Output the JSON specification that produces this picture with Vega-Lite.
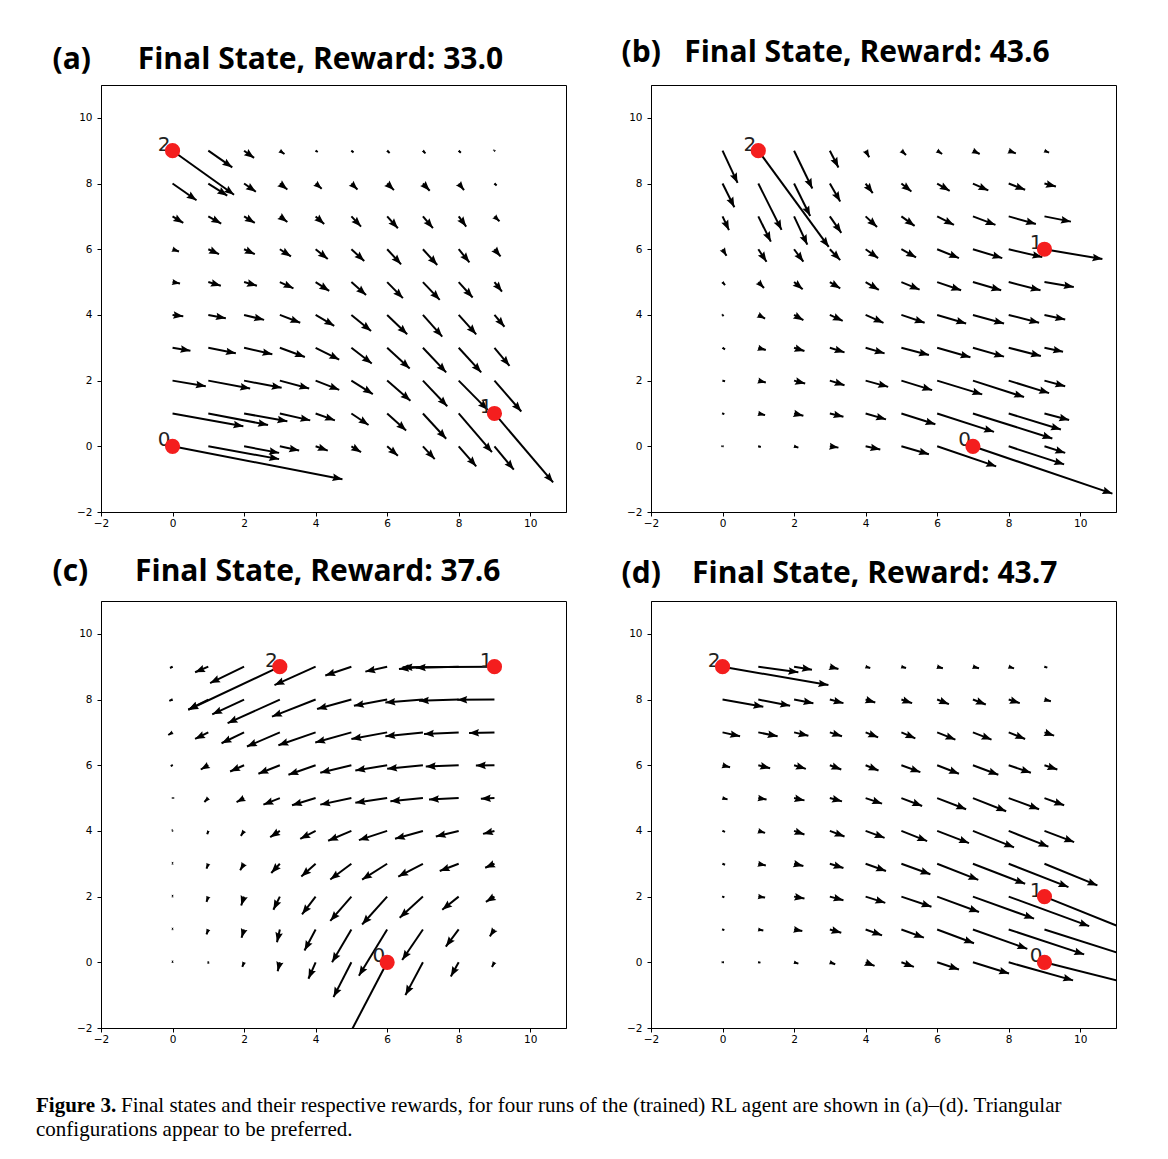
{
  "$schema": "https://vega.github.io/schema/vega-lite/v6.json",
  "background": "white",
  "padding": {"left": 36, "right": 54, "top": 37, "bottom": 20},
  "datasets": {
    "a": [
      {"x":0,"y":9,"x2":1.72,"y2":7.66},{"x":1,"y":9,"x2":1.67,"y2":8.49},{"x":2,"y":9,"x2":2.28,"y2":8.78},{"x":3,"y":9,"x2":3.13,"y2":8.9},{"x":4,"y":9,"x2":4.06,"y2":8.96},{"x":5,"y":9,"x2":5.06,"y2":8.95},{"x":6,"y":9,"x2":6.07,"y2":8.93},{"x":7,"y":9,"x2":7.07,"y2":8.92},{"x":8,"y":9,"x2":8.06,"y2":8.94},{"x":9,"y":9,"x2":9.02,"y2":8.98},
      {"x":0,"y":8,"x2":0.67,"y2":7.49},{"x":1,"y":8,"x2":1.53,"y2":7.63},{"x":2,"y":8,"x2":2.33,"y2":7.75},{"x":3,"y":8,"x2":3.21,"y2":7.82},{"x":4,"y":8,"x2":4.17,"y2":7.84},{"x":5,"y":8,"x2":5.17,"y2":7.82},{"x":6,"y":8,"x2":6.19,"y2":7.8},{"x":7,"y":8,"x2":7.19,"y2":7.78},{"x":8,"y":8,"x2":8.15,"y2":7.8},{"x":9,"y":8,"x2":9.06,"y2":7.94},
      {"x":0,"y":7,"x2":0.3,"y2":6.8},{"x":1,"y":7,"x2":1.36,"y2":6.78},{"x":2,"y":7,"x2":2.3,"y2":6.8},{"x":3,"y":7,"x2":3.21,"y2":6.83},{"x":4,"y":7,"x2":4.24,"y2":6.77},{"x":5,"y":7,"x2":5.27,"y2":6.69},{"x":6,"y":7,"x2":6.3,"y2":6.64},{"x":7,"y":7,"x2":7.28,"y2":6.64},{"x":8,"y":7,"x2":8.21,"y2":6.69},{"x":9,"y":7,"x2":9.14,"y2":6.85},
      {"x":0,"y":6,"x2":0.18,"y2":5.93},{"x":1,"y":6,"x2":1.3,"y2":5.85},{"x":2,"y":6,"x2":2.3,"y2":5.85},{"x":3,"y":6,"x2":3.31,"y2":5.78},{"x":4,"y":6,"x2":4.34,"y2":5.7},{"x":5,"y":6,"x2":5.36,"y2":5.64},{"x":6,"y":6,"x2":6.39,"y2":5.54},{"x":7,"y":6,"x2":7.4,"y2":5.52},{"x":8,"y":6,"x2":8.3,"y2":5.6},{"x":9,"y":6,"x2":9.17,"y2":5.78},
      {"x":0,"y":5,"x2":0.21,"y2":4.96},{"x":1,"y":5,"x2":1.35,"y2":4.89},{"x":2,"y":5,"x2":2.36,"y2":4.89},{"x":3,"y":5,"x2":3.38,"y2":4.81},{"x":4,"y":5,"x2":4.38,"y2":4.73},{"x":5,"y":5,"x2":5.41,"y2":4.61},{"x":6,"y":5,"x2":6.44,"y2":4.51},{"x":7,"y":5,"x2":7.47,"y2":4.46},{"x":8,"y":5,"x2":8.39,"y2":4.53},{"x":9,"y":5,"x2":9.21,"y2":4.71},
      {"x":0,"y":4,"x2":0.3,"y2":3.96},{"x":1,"y":4,"x2":1.49,"y2":3.9},{"x":2,"y":4,"x2":2.56,"y2":3.85},{"x":3,"y":4,"x2":3.57,"y2":3.76},{"x":4,"y":4,"x2":4.52,"y2":3.67},{"x":5,"y":4,"x2":5.55,"y2":3.51},{"x":6,"y":4,"x2":6.56,"y2":3.41},{"x":7,"y":4,"x2":7.54,"y2":3.34},{"x":8,"y":4,"x2":8.49,"y2":3.41},{"x":9,"y":4,"x2":9.28,"y2":3.64},
      {"x":0,"y":3,"x2":0.5,"y2":2.91},{"x":1,"y":3,"x2":1.77,"y2":2.83},{"x":2,"y":3,"x2":2.79,"y2":2.8},{"x":3,"y":3,"x2":3.7,"y2":2.72},{"x":4,"y":3,"x2":4.66,"y2":2.64},{"x":5,"y":3,"x2":5.57,"y2":2.52},{"x":6,"y":3,"x2":6.63,"y2":2.37},{"x":7,"y":3,"x2":7.65,"y2":2.25},{"x":8,"y":3,"x2":8.63,"y2":2.25},{"x":9,"y":3,"x2":9.42,"y2":2.45},
      {"x":0,"y":2,"x2":0.93,"y2":1.83},{"x":1,"y":2,"x2":2.17,"y2":1.76},{"x":2,"y":2,"x2":3.05,"y2":1.78},{"x":3,"y":2,"x2":3.82,"y2":1.76},{"x":4,"y":2,"x2":4.66,"y2":1.72},{"x":5,"y":2,"x2":5.6,"y2":1.59},{"x":6,"y":2,"x2":6.65,"y2":1.39},{"x":7,"y":2,"x2":7.68,"y2":1.22},{"x":8,"y":2,"x2":8.81,"y2":1.11},{"x":9,"y":2,"x2":9.75,"y2":1.06},
      {"x":0,"y":1,"x2":1.98,"y2":0.61},{"x":1,"y":1,"x2":2.67,"y2":0.65},{"x":2,"y":1,"x2":3.21,"y2":0.76},{"x":3,"y":1,"x2":3.85,"y2":0.79},{"x":4,"y":1,"x2":4.54,"y2":0.79},{"x":5,"y":1,"x2":5.48,"y2":0.65},{"x":6,"y":1,"x2":6.53,"y2":0.48},{"x":7,"y":1,"x2":7.65,"y2":0.23},{"x":8,"y":1,"x2":8.93,"y2":-0.18},{"x":9,"y":1,"x2":10.64,"y2":-1.1},
      {"x":0,"y":0,"x2":4.75,"y2":-1},{"x":1,"y":0,"x2":2.98,"y2":-0.39},{"x":2,"y":0,"x2":2.98,"y2":-0.2},{"x":3,"y":0,"x2":3.54,"y2":-0.13},{"x":4,"y":0,"x2":4.34,"y2":-0.13},{"x":5,"y":0,"x2":5.27,"y2":-0.18},{"x":6,"y":0,"x2":6.3,"y2":-0.29},{"x":7,"y":0,"x2":7.33,"y2":-0.39},{"x":8,"y":0,"x2":8.49,"y2":-0.61},{"x":9,"y":0,"x2":9.54,"y2":-0.71}
    ],
    "b": [
      {"x":0,"y":9,"x2":0.42,"y2":8.02},{"x":1,"y":9,"x2":2.97,"y2":6.07},{"x":2,"y":9,"x2":2.51,"y2":7.85},{"x":3,"y":9,"x2":3.24,"y2":8.49},{"x":4,"y":9,"x2":4.1,"y2":8.8},{"x":5,"y":9,"x2":5.13,"y2":8.87},{"x":6,"y":9,"x2":6.14,"y2":8.9},{"x":7,"y":9,"x2":7.19,"y2":8.9},{"x":8,"y":9,"x2":8.2,"y2":8.92},{"x":9,"y":9,"x2":9.13,"y2":8.94},
      {"x":0,"y":8,"x2":0.33,"y2":7.28},{"x":1,"y":8,"x2":1.65,"y2":6.59},{"x":2,"y":8,"x2":2.45,"y2":7.01},{"x":3,"y":8,"x2":3.29,"y2":7.45},{"x":4,"y":8,"x2":4.2,"y2":7.71},{"x":5,"y":8,"x2":5.28,"y2":7.76},{"x":6,"y":8,"x2":6.35,"y2":7.78},{"x":7,"y":8,"x2":7.43,"y2":7.79},{"x":8,"y":8,"x2":8.46,"y2":7.81},{"x":9,"y":8,"x2":9.32,"y2":7.91},
      {"x":0,"y":7,"x2":0.18,"y2":6.58},{"x":1,"y":7,"x2":1.35,"y2":6.23},{"x":2,"y":7,"x2":2.37,"y2":6.14},{"x":3,"y":7,"x2":3.32,"y2":6.5},{"x":4,"y":7,"x2":4.32,"y2":6.68},{"x":5,"y":7,"x2":5.37,"y2":6.71},{"x":6,"y":7,"x2":6.47,"y2":6.74},{"x":7,"y":7,"x2":7.63,"y2":6.74},{"x":8,"y":7,"x2":8.76,"y2":6.77},{"x":9,"y":7,"x2":9.74,"y2":6.84},
      {"x":0,"y":6,"x2":0.11,"y2":5.8},{"x":1,"y":6,"x2":1.23,"y2":5.62},{"x":2,"y":6,"x2":2.26,"y2":5.62},{"x":3,"y":6,"x2":3.29,"y2":5.67},{"x":4,"y":6,"x2":4.35,"y2":5.73},{"x":5,"y":6,"x2":5.41,"y2":5.75},{"x":6,"y":6,"x2":6.61,"y2":5.73},{"x":7,"y":6,"x2":7.82,"y2":5.73},{"x":8,"y":6,"x2":8.94,"y2":5.76},{"x":9,"y":6,"x2":10.62,"y2":5.7},
      {"x":0,"y":5,"x2":0.07,"y2":4.91},{"x":1,"y":5,"x2":1.16,"y2":4.82},{"x":2,"y":5,"x2":2.24,"y2":4.78},{"x":3,"y":5,"x2":3.29,"y2":4.81},{"x":4,"y":5,"x2":4.37,"y2":4.76},{"x":5,"y":5,"x2":5.51,"y2":4.77},{"x":6,"y":5,"x2":6.67,"y2":4.75},{"x":7,"y":5,"x2":7.79,"y2":4.75},{"x":8,"y":5,"x2":8.89,"y2":4.75},{"x":9,"y":5,"x2":9.82,"y2":4.85},
      {"x":0,"y":4,"x2":0.03,"y2":3.97},{"x":1,"y":4,"x2":1.19,"y2":3.89},{"x":2,"y":4,"x2":2.26,"y2":3.84},{"x":3,"y":4,"x2":3.36,"y2":3.82},{"x":4,"y":4,"x2":4.5,"y2":3.76},{"x":5,"y":4,"x2":5.65,"y2":3.76},{"x":6,"y":4,"x2":6.81,"y2":3.74},{"x":7,"y":4,"x2":7.87,"y2":3.74},{"x":8,"y":4,"x2":8.85,"y2":3.76},{"x":9,"y":4,"x2":9.58,"y2":3.86},
      {"x":0,"y":3,"x2":0.07,"y2":2.95},{"x":1,"y":3,"x2":1.21,"y2":2.93},{"x":2,"y":3,"x2":2.29,"y2":2.9},{"x":3,"y":3,"x2":3.41,"y2":2.86},{"x":4,"y":3,"x2":4.53,"y2":2.83},{"x":5,"y":3,"x2":5.77,"y2":2.78},{"x":6,"y":3,"x2":6.93,"y2":2.71},{"x":7,"y":3,"x2":7.87,"y2":2.73},{"x":8,"y":3,"x2":8.9,"y2":2.75},{"x":9,"y":3,"x2":9.52,"y2":2.88},
      {"x":0,"y":2,"x2":0.07,"y2":1.98},{"x":1,"y":2,"x2":1.21,"y2":1.94},{"x":2,"y":2,"x2":2.31,"y2":1.91},{"x":3,"y":2,"x2":3.41,"y2":1.86},{"x":4,"y":2,"x2":4.63,"y2":1.81},{"x":5,"y":2,"x2":5.86,"y2":1.71},{"x":6,"y":2,"x2":7.26,"y2":1.58},{"x":7,"y":2,"x2":8.43,"y2":1.5},{"x":8,"y":2,"x2":9.13,"y2":1.62},{"x":9,"y":2,"x2":9.58,"y2":1.83},
      {"x":0,"y":1,"x2":0.05,"y2":0.98},{"x":1,"y":1,"x2":1.19,"y2":0.95},{"x":2,"y":1,"x2":2.26,"y2":0.93},{"x":3,"y":1,"x2":3.38,"y2":0.9},{"x":4,"y":1,"x2":4.57,"y2":0.82},{"x":5,"y":1,"x2":5.95,"y2":0.67},{"x":6,"y":1,"x2":7.59,"y2":0.44},{"x":7,"y":1,"x2":9.22,"y2":0.24},{"x":8,"y":1,"x2":9.46,"y2":0.51},{"x":9,"y":1,"x2":9.69,"y2":0.8},
      {"x":0,"y":0,"x2":0.03,"y2":0},{"x":1,"y":0,"x2":1.07,"y2":-0.02},{"x":2,"y":0,"x2":2.12,"y2":-0.04},{"x":3,"y":0,"x2":3.24,"y2":-0.04},{"x":4,"y":0,"x2":4.41,"y2":-0.1},{"x":5,"y":0,"x2":5.77,"y2":-0.24},{"x":6,"y":0,"x2":7.65,"y2":-0.61},{"x":7,"y":0,"x2":10.9,"y2":-1.44},{"x":8,"y":0,"x2":9.55,"y2":-0.55},{"x":9,"y":0,"x2":9.58,"y2":-0.2}
    ],
    "c": [
      {"x":0,"y":9,"x2":-0.07,"y2":8.96},{"x":1,"y":9,"x2":0.63,"y2":8.83},{"x":2,"y":9,"x2":1.05,"y2":8.5},{"x":3,"y":9,"x2":0.44,"y2":7.69},{"x":4,"y":9,"x2":2.85,"y2":8.44},{"x":5,"y":9,"x2":4.27,"y2":8.73},{"x":6,"y":9,"x2":5.39,"y2":8.85},{"x":7,"y":9,"x2":6.33,"y2":8.93},{"x":8,"y":9,"x2":6.8,"y2":8.97},{"x":9,"y":9,"x2":6.43,"y2":8.98},
      {"x":0,"y":8,"x2":-0.09,"y2":7.96},{"x":1,"y":8,"x2":0.44,"y2":7.69},{"x":2,"y":8,"x2":1.11,"y2":7.55},{"x":3,"y":8,"x2":1.54,"y2":7.28},{"x":4,"y":8,"x2":2.78,"y2":7.48},{"x":5,"y":8,"x2":4.04,"y2":7.71},{"x":6,"y":8,"x2":5.07,"y2":7.81},{"x":7,"y":8,"x2":5.95,"y2":7.91},{"x":8,"y":8,"x2":6.89,"y2":7.96},{"x":9,"y":8,"x2":7.96,"y2":7.99},
      {"x":0,"y":7,"x2":-0.12,"y2":6.92},{"x":1,"y":7,"x2":0.63,"y2":6.8},{"x":2,"y":7,"x2":1.37,"y2":6.67},{"x":3,"y":7,"x2":2.08,"y2":6.57},{"x":4,"y":7,"x2":2.96,"y2":6.61},{"x":5,"y":7,"x2":3.99,"y2":6.69},{"x":6,"y":7,"x2":5,"y2":6.8},{"x":7,"y":7,"x2":5.95,"y2":6.88},{"x":8,"y":7,"x2":7.03,"y2":6.95},{"x":9,"y":7,"x2":8.29,"y2":6.98},
      {"x":0,"y":6,"x2":-0.05,"y2":5.97},{"x":1,"y":6,"x2":0.79,"y2":5.87},{"x":2,"y":6,"x2":1.61,"y2":5.81},{"x":3,"y":6,"x2":2.4,"y2":5.74},{"x":4,"y":6,"x2":3.24,"y2":5.71},{"x":5,"y":6,"x2":4.13,"y2":5.77},{"x":6,"y":6,"x2":5.11,"y2":5.84},{"x":7,"y":6,"x2":6,"y2":5.89},{"x":8,"y":6,"x2":7.08,"y2":5.96},{"x":9,"y":6,"x2":8.48,"y2":5.99},
      {"x":0,"y":5,"x2":-0.02,"y2":5},{"x":1,"y":5,"x2":0.89,"y2":4.88},{"x":2,"y":5,"x2":1.79,"y2":4.88},{"x":3,"y":5,"x2":2.54,"y2":4.8},{"x":4,"y":5,"x2":3.34,"y2":4.78},{"x":5,"y":5,"x2":4.13,"y2":4.8},{"x":6,"y":5,"x2":5.11,"y2":4.86},{"x":7,"y":5,"x2":6.09,"y2":4.9},{"x":8,"y":5,"x2":7.17,"y2":4.96},{"x":9,"y":5,"x2":8.62,"y2":4.98},
      {"x":0,"y":4,"x2":0.01,"y2":3.98},{"x":1,"y":4,"x2":0.97,"y2":3.9},{"x":2,"y":4,"x2":1.91,"y2":3.85},{"x":3,"y":4,"x2":2.73,"y2":3.81},{"x":4,"y":4,"x2":3.57,"y2":3.76},{"x":5,"y":4,"x2":4.35,"y2":3.7},{"x":6,"y":4,"x2":5.21,"y2":3.72},{"x":7,"y":4,"x2":6.22,"y2":3.76},{"x":8,"y":4,"x2":7.36,"y2":3.83},{"x":9,"y":4,"x2":8.68,"y2":3.91},
      {"x":0,"y":3,"x2":0,"y2":2.98},{"x":1,"y":3,"x2":0.95,"y2":2.85},{"x":2,"y":3,"x2":1.89,"y2":2.8},{"x":3,"y":3,"x2":2.76,"y2":2.72},{"x":4,"y":3,"x2":3.6,"y2":2.61},{"x":5,"y":3,"x2":4.41,"y2":2.52},{"x":6,"y":3,"x2":5.3,"y2":2.52},{"x":7,"y":3,"x2":6.31,"y2":2.61},{"x":8,"y":3,"x2":7.47,"y2":2.78},{"x":9,"y":3,"x2":8.74,"y2":2.88},
      {"x":0,"y":2,"x2":0,"y2":1.98},{"x":1,"y":2,"x2":0.95,"y2":1.84},{"x":2,"y":2,"x2":1.92,"y2":1.73},{"x":3,"y":2,"x2":2.82,"y2":1.6},{"x":4,"y":2,"x2":3.62,"y2":1.46},{"x":5,"y":2,"x2":4.41,"y2":1.26},{"x":6,"y":2,"x2":5.3,"y2":1.15},{"x":7,"y":2,"x2":6.35,"y2":1.36},{"x":8,"y":2,"x2":7.54,"y2":1.6},{"x":9,"y":2,"x2":8.76,"y2":1.84},
      {"x":0,"y":1,"x2":0,"y2":0.98},{"x":1,"y":1,"x2":0.95,"y2":0.85},{"x":2,"y":1,"x2":1.93,"y2":0.75},{"x":3,"y":1,"x2":2.92,"y2":0.61},{"x":4,"y":1,"x2":3.69,"y2":0.36},{"x":5,"y":1,"x2":4.46,"y2":0},{"x":6,"y":1,"x2":5.21,"y2":-0.41},{"x":7,"y":1,"x2":6.42,"y2":0.07},{"x":8,"y":1,"x2":7.64,"y2":0.48},{"x":9,"y":1,"x2":8.87,"y2":0.79},
      {"x":0,"y":0,"x2":0,"y2":-0.02},{"x":1,"y":0,"x2":1,"y2":-0.04},{"x":2,"y":0,"x2":1.95,"y2":-0.14},{"x":3,"y":0,"x2":2.94,"y2":-0.27},{"x":4,"y":0,"x2":3.8,"y2":-0.5},{"x":5,"y":0,"x2":4.5,"y2":-1.06},{"x":6,"y":0,"x2":4.75,"y2":-2.6},{"x":7,"y":0,"x2":6.51,"y2":-1},{"x":8,"y":0,"x2":7.78,"y2":-0.43},{"x":9,"y":0,"x2":8.93,"y2":-0.14}
    ],
    "d": [
      {"x":0,"y":9,"x2":2.96,"y2":8.44},{"x":1,"y":9,"x2":2.12,"y2":8.83},{"x":2,"y":9,"x2":2.5,"y2":8.91},{"x":3,"y":9,"x2":3.24,"y2":8.93},{"x":4,"y":9,"x2":4.13,"y2":8.96},{"x":5,"y":9,"x2":5.13,"y2":8.96},{"x":6,"y":9,"x2":6.16,"y2":8.95},{"x":7,"y":9,"x2":7.17,"y2":8.95},{"x":8,"y":9,"x2":8.15,"y2":8.95},{"x":9,"y":9,"x2":9.08,"y2":8.97},
      {"x":0,"y":8,"x2":1.14,"y2":7.78},{"x":1,"y":8,"x2":1.89,"y2":7.81},{"x":2,"y":8,"x2":2.54,"y2":7.89},{"x":3,"y":8,"x2":3.38,"y2":7.89},{"x":4,"y":8,"x2":4.27,"y2":7.91},{"x":5,"y":8,"x2":5.3,"y2":7.89},{"x":6,"y":8,"x2":6.33,"y2":7.86},{"x":7,"y":8,"x2":7.36,"y2":7.85},{"x":8,"y":8,"x2":8.31,"y2":7.89},{"x":9,"y":8,"x2":9.18,"y2":7.95},
      {"x":0,"y":7,"x2":0.49,"y2":6.88},{"x":1,"y":7,"x2":1.54,"y2":6.88},{"x":2,"y":7,"x2":2.4,"y2":6.9},{"x":3,"y":7,"x2":3.34,"y2":6.88},{"x":4,"y":7,"x2":4.35,"y2":6.85},{"x":5,"y":7,"x2":5.39,"y2":6.82},{"x":6,"y":7,"x2":6.51,"y2":6.78},{"x":7,"y":7,"x2":7.52,"y2":6.78},{"x":8,"y":7,"x2":8.46,"y2":6.8},{"x":9,"y":7,"x2":9.27,"y2":6.9},
      {"x":0,"y":6,"x2":0.21,"y2":5.94},{"x":1,"y":6,"x2":1.33,"y2":5.91},{"x":2,"y":6,"x2":2.33,"y2":5.89},{"x":3,"y":6,"x2":3.32,"y2":5.87},{"x":4,"y":6,"x2":4.36,"y2":5.84},{"x":5,"y":6,"x2":5.53,"y2":5.79},{"x":6,"y":6,"x2":6.61,"y2":5.74},{"x":7,"y":6,"x2":7.71,"y2":5.71},{"x":8,"y":6,"x2":8.62,"y2":5.77},{"x":9,"y":6,"x2":9.36,"y2":5.87},
      {"x":0,"y":5,"x2":0.14,"y2":4.96},{"x":1,"y":5,"x2":1.23,"y2":4.96},{"x":2,"y":5,"x2":2.29,"y2":4.93},{"x":3,"y":5,"x2":3.34,"y2":4.9},{"x":4,"y":5,"x2":4.46,"y2":4.83},{"x":5,"y":5,"x2":5.58,"y2":4.76},{"x":6,"y":5,"x2":6.81,"y2":4.66},{"x":7,"y":5,"x2":7.93,"y2":4.6},{"x":8,"y":5,"x2":8.85,"y2":4.66},{"x":9,"y":5,"x2":9.55,"y2":4.78},
      {"x":0,"y":4,"x2":0.07,"y2":3.97},{"x":1,"y":4,"x2":1.19,"y2":3.94},{"x":2,"y":4,"x2":2.29,"y2":3.89},{"x":3,"y":4,"x2":3.41,"y2":3.83},{"x":4,"y":4,"x2":4.53,"y2":3.79},{"x":5,"y":4,"x2":5.72,"y2":3.69},{"x":6,"y":4,"x2":6.89,"y2":3.63},{"x":7,"y":4,"x2":8.15,"y2":3.5},{"x":8,"y":4,"x2":9.11,"y2":3.52},{"x":9,"y":4,"x2":9.83,"y2":3.66},
      {"x":0,"y":3,"x2":0.07,"y2":2.97},{"x":1,"y":3,"x2":1.21,"y2":2.95},{"x":2,"y":3,"x2":2.26,"y2":2.93},{"x":3,"y":3,"x2":3.38,"y2":2.87},{"x":4,"y":3,"x2":4.57,"y2":2.78},{"x":5,"y":3,"x2":5.81,"y2":2.68},{"x":6,"y":3,"x2":7.15,"y2":2.51},{"x":7,"y":3,"x2":8.46,"y2":2.39},{"x":8,"y":3,"x2":9.67,"y2":2.29},{"x":9,"y":3,"x2":10.48,"y2":2.34},
      {"x":0,"y":2,"x2":0.05,"y2":1.98},{"x":1,"y":2,"x2":1.19,"y2":1.97},{"x":2,"y":2,"x2":2.29,"y2":1.94},{"x":3,"y":2,"x2":3.38,"y2":1.89},{"x":4,"y":2,"x2":4.55,"y2":1.81},{"x":5,"y":2,"x2":5.84,"y2":1.69},{"x":6,"y":2,"x2":7.17,"y2":1.53},{"x":7,"y":2,"x2":8.71,"y2":1.33},{"x":8,"y":2,"x2":10.25,"y2":1.1},{"x":9,"y":2,"x2":11.6,"y2":0.86},
      {"x":0,"y":1,"x2":0.05,"y2":0.98},{"x":1,"y":1,"x2":1.14,"y2":0.97},{"x":2,"y":1,"x2":2.23,"y2":0.95},{"x":3,"y":1,"x2":3.32,"y2":0.9},{"x":4,"y":1,"x2":4.46,"y2":0.82},{"x":5,"y":1,"x2":5.63,"y2":0.75},{"x":6,"y":1,"x2":7.03,"y2":0.58},{"x":7,"y":1,"x2":8.52,"y2":0.41},{"x":8,"y":1,"x2":10.11,"y2":0.24},{"x":9,"y":1,"x2":11.6,"y2":0.1},
      {"x":0,"y":0,"x2":0.04,"y2":0},{"x":1,"y":0,"x2":1.06,"y2":-0.01},{"x":2,"y":0,"x2":2.12,"y2":-0.04},{"x":3,"y":0,"x2":3.15,"y2":-0.06},{"x":4,"y":0,"x2":4.25,"y2":-0.11},{"x":5,"y":0,"x2":5.35,"y2":-0.14},{"x":6,"y":0,"x2":6.61,"y2":-0.22},{"x":7,"y":0,"x2":8.01,"y2":-0.34},{"x":8,"y":0,"x2":9.8,"y2":-0.55},{"x":9,"y":0,"x2":11.6,"y2":-0.71}
    ],
    "agA": [{"x":0,"y":0,"label":"0"},{"x":9,"y":1,"label":"1"},{"x":0,"y":9,"label":"2"}],
    "agB": [{"x":7,"y":0,"label":"0"},{"x":9,"y":6,"label":"1"},{"x":1,"y":9,"label":"2"}],
    "agC": [{"x":6,"y":0,"label":"0"},{"x":9,"y":9,"label":"1"},{"x":3,"y":9,"label":"2"}],
    "agD": [{"x":9,"y":0,"label":"0"},{"x":9,"y":2,"label":"1"},{"x":0,"y":9,"label":"2"}]
  },
  "title": {
    "text": "Final states and their respective rewards, for four runs of the (trained) RL agent are shown in (a)\u2013(d). Triangular",
    "orient": "bottom", "anchor": "start", "frame": "bounds",
    "font": "Liberation Serif", "fontSize": 21, "fontWeight": "normal", "color": "black",
    "lineHeight": 21, "baseline": "top", "offset": -45, "dx": 85
  },
  "vconcat": [
    {
      "title": {
        "text": "Figure 3.",
        "subtitle": "configurations appear to be preferred.",
        "orient": "bottom", "anchor": "start", "frame": "bounds",
        "font": "Liberation Serif", "fontSize": 21, "fontWeight": "bold", "color": "black",
        "subtitleFont": "Liberation Serif", "subtitleFontSize": 21, "subtitleFontWeight": "normal", "subtitleColor": "black",
        "subtitleLineHeight": 21, "subtitlePadding": 3, "lineHeight": 21,
        "baseline": "top", "offset": 50, "dx": -16
      },
      "columns": 2,
      "spacing": {"row": 89, "column": 85},
      "bounds": "flush",
      "concat": [
        {
          "width": 465, "height": 427,
          "title": {"text": "(a)\u00a0\u00a0\u00a0\u00a0\u00a0\u00a0Final State, Reward: 33.0", "dx": -24, "offset": 10},
          "layer": [
            {"data": {"name": "a"}, "mark": {"type": "rule", "clip": true, "color": "black", "strokeWidth": 2},
             "encoding": {
               "x": {"field": "x", "type": "quantitative", "scale": {"domain": [-2, 11], "nice": false, "zero": false}, "axis": {"values": [-2,0,2,4,6,8,10], "title": null}},
               "y": {"field": "y", "type": "quantitative", "scale": {"domain": [-2, 11], "nice": false, "zero": false}, "axis": {"values": [-2,0,2,4,6,8,10], "title": null}},
               "x2": {"field": "x2"}, "y2": {"field": "y2"}}},
            {"data": {"name": "a"}, "mark": {"type": "point", "shape": "M0,0L-0.8,2.1L0,1.8L0.8,2.1Z", "filled": true, "clip": true, "color": "black", "opacity": 1, "strokeWidth": 0},
             "encoding": {
               "x": {"field": "x2", "type": "quantitative", "title": null, "scale": {"domain": [-2, 11], "nice": false, "zero": false}},
               "y": {"field": "y2", "type": "quantitative", "title": null, "scale": {"domain": [-2, 11], "nice": false, "zero": false}},
               "angle": {"value": {"expr": "(atan2((datum.x2-datum.x)*35.77,(datum.y2-datum.y)*32.85)*180/PI+360)%360"}},
               "size": {"value": {"expr": "clamp(pow((datum.x2-datum.x)*35.77,2)+pow((datum.y2-datum.y)*32.85,2),6,90)"}}}},
            {"data": {"name": "agA"}, "mark": {"type": "text", "align": "right", "baseline": "alphabetic", "dx": -2, "font": "DejaVu Sans", "fontSize": 20, "color": "#222222"},
             "encoding": {
               "x": {"field": "x", "type": "quantitative", "scale": {"domain": [-2, 11], "nice": false, "zero": false}},
               "y": {"field": "y", "type": "quantitative", "scale": {"domain": [-2, 11], "nice": false, "zero": false}},
               "text": {"field": "label"}}},
            {"data": {"name": "agA"}, "mark": {"type": "circle", "size": 230, "color": "#f41e1e", "opacity": 1},
             "encoding": {
               "x": {"field": "x", "type": "quantitative", "scale": {"domain": [-2, 11], "nice": false, "zero": false}},
               "y": {"field": "y", "type": "quantitative", "scale": {"domain": [-2, 11], "nice": false, "zero": false}}}}
          ]
        },
        {
          "width": 465, "height": 427,
          "title": {"text": "(b)\u00a0\u00a0\u00a0Final State, Reward: 43.6", "dx": -5, "offset": 17},
          "layer": [
            {"data": {"name": "b"}, "mark": {"type": "rule", "clip": true, "color": "black", "strokeWidth": 2},
             "encoding": {
               "x": {"field": "x", "type": "quantitative", "scale": {"domain": [-2, 11], "nice": false, "zero": false}, "axis": {"values": [-2,0,2,4,6,8,10], "title": null}},
               "y": {"field": "y", "type": "quantitative", "scale": {"domain": [-2, 11], "nice": false, "zero": false}, "axis": {"values": [-2,0,2,4,6,8,10], "title": null}},
               "x2": {"field": "x2"}, "y2": {"field": "y2"}}},
            {"data": {"name": "b"}, "mark": {"type": "point", "shape": "M0,0L-0.8,2.1L0,1.8L0.8,2.1Z", "filled": true, "clip": true, "color": "black", "opacity": 1, "strokeWidth": 0},
             "encoding": {
               "x": {"field": "x2", "type": "quantitative", "title": null, "scale": {"domain": [-2, 11], "nice": false, "zero": false}},
               "y": {"field": "y2", "type": "quantitative", "title": null, "scale": {"domain": [-2, 11], "nice": false, "zero": false}},
               "angle": {"value": {"expr": "(atan2((datum.x2-datum.x)*35.77,(datum.y2-datum.y)*32.85)*180/PI+360)%360"}},
               "size": {"value": {"expr": "clamp(pow((datum.x2-datum.x)*35.77,2)+pow((datum.y2-datum.y)*32.85,2),6,90)"}}}},
            {"data": {"name": "agB"}, "mark": {"type": "text", "align": "right", "baseline": "alphabetic", "dx": -2, "font": "DejaVu Sans", "fontSize": 20, "color": "#222222"},
             "encoding": {
               "x": {"field": "x", "type": "quantitative", "scale": {"domain": [-2, 11], "nice": false, "zero": false}},
               "y": {"field": "y", "type": "quantitative", "scale": {"domain": [-2, 11], "nice": false, "zero": false}},
               "text": {"field": "label"}}},
            {"data": {"name": "agB"}, "mark": {"type": "circle", "size": 230, "color": "#f41e1e", "opacity": 1},
             "encoding": {
               "x": {"field": "x", "type": "quantitative", "scale": {"domain": [-2, 11], "nice": false, "zero": false}},
               "y": {"field": "y", "type": "quantitative", "scale": {"domain": [-2, 11], "nice": false, "zero": false}}}}
          ]
        },
        {
          "width": 465, "height": 427,
          "title": {"text": "(c)\u00a0\u00a0\u00a0\u00a0\u00a0\u00a0Final State, Reward: 37.6", "dx": -24, "offset": 14},
          "layer": [
            {"data": {"name": "c"}, "mark": {"type": "rule", "clip": true, "color": "black", "strokeWidth": 2},
             "encoding": {
               "x": {"field": "x", "type": "quantitative", "scale": {"domain": [-2, 11], "nice": false, "zero": false}, "axis": {"values": [-2,0,2,4,6,8,10], "title": null}},
               "y": {"field": "y", "type": "quantitative", "scale": {"domain": [-2, 11], "nice": false, "zero": false}, "axis": {"values": [-2,0,2,4,6,8,10], "title": null}},
               "x2": {"field": "x2"}, "y2": {"field": "y2"}}},
            {"data": {"name": "c"}, "mark": {"type": "point", "shape": "M0,0L-0.8,2.1L0,1.8L0.8,2.1Z", "filled": true, "clip": true, "color": "black", "opacity": 1, "strokeWidth": 0},
             "encoding": {
               "x": {"field": "x2", "type": "quantitative", "title": null, "scale": {"domain": [-2, 11], "nice": false, "zero": false}},
               "y": {"field": "y2", "type": "quantitative", "title": null, "scale": {"domain": [-2, 11], "nice": false, "zero": false}},
               "angle": {"value": {"expr": "(atan2((datum.x2-datum.x)*35.77,(datum.y2-datum.y)*32.85)*180/PI+360)%360"}},
               "size": {"value": {"expr": "clamp(pow((datum.x2-datum.x)*35.77,2)+pow((datum.y2-datum.y)*32.85,2),6,90)"}}}},
            {"data": {"name": "agC"}, "mark": {"type": "text", "align": "right", "baseline": "alphabetic", "dx": -2, "font": "DejaVu Sans", "fontSize": 20, "color": "#222222"},
             "encoding": {
               "x": {"field": "x", "type": "quantitative", "scale": {"domain": [-2, 11], "nice": false, "zero": false}},
               "y": {"field": "y", "type": "quantitative", "scale": {"domain": [-2, 11], "nice": false, "zero": false}},
               "text": {"field": "label"}}},
            {"data": {"name": "agC"}, "mark": {"type": "circle", "size": 230, "color": "#f41e1e", "opacity": 1},
             "encoding": {
               "x": {"field": "x", "type": "quantitative", "scale": {"domain": [-2, 11], "nice": false, "zero": false}},
               "y": {"field": "y", "type": "quantitative", "scale": {"domain": [-2, 11], "nice": false, "zero": false}}}}
          ]
        },
        {
          "width": 465, "height": 427,
          "title": {"text": "(d)\u00a0\u00a0\u00a0\u00a0Final State, Reward: 43.7", "dx": -5, "offset": 12},
          "layer": [
            {"data": {"name": "d"}, "mark": {"type": "rule", "clip": true, "color": "black", "strokeWidth": 2},
             "encoding": {
               "x": {"field": "x", "type": "quantitative", "scale": {"domain": [-2, 11], "nice": false, "zero": false}, "axis": {"values": [-2,0,2,4,6,8,10], "title": null}},
               "y": {"field": "y", "type": "quantitative", "scale": {"domain": [-2, 11], "nice": false, "zero": false}, "axis": {"values": [-2,0,2,4,6,8,10], "title": null}},
               "x2": {"field": "x2"}, "y2": {"field": "y2"}}},
            {"data": {"name": "d"}, "mark": {"type": "point", "shape": "M0,0L-0.8,2.1L0,1.8L0.8,2.1Z", "filled": true, "clip": true, "color": "black", "opacity": 1, "strokeWidth": 0},
             "encoding": {
               "x": {"field": "x2", "type": "quantitative", "title": null, "scale": {"domain": [-2, 11], "nice": false, "zero": false}},
               "y": {"field": "y2", "type": "quantitative", "title": null, "scale": {"domain": [-2, 11], "nice": false, "zero": false}},
               "angle": {"value": {"expr": "(atan2((datum.x2-datum.x)*35.77,(datum.y2-datum.y)*32.85)*180/PI+360)%360"}},
               "size": {"value": {"expr": "clamp(pow((datum.x2-datum.x)*35.77,2)+pow((datum.y2-datum.y)*32.85,2),6,90)"}}}},
            {"data": {"name": "agD"}, "mark": {"type": "text", "align": "right", "baseline": "alphabetic", "dx": -2, "font": "DejaVu Sans", "fontSize": 20, "color": "#222222"},
             "encoding": {
               "x": {"field": "x", "type": "quantitative", "scale": {"domain": [-2, 11], "nice": false, "zero": false}},
               "y": {"field": "y", "type": "quantitative", "scale": {"domain": [-2, 11], "nice": false, "zero": false}},
               "text": {"field": "label"}}},
            {"data": {"name": "agD"}, "mark": {"type": "circle", "size": 230, "color": "#f41e1e", "opacity": 1},
             "encoding": {
               "x": {"field": "x", "type": "quantitative", "scale": {"domain": [-2, 11], "nice": false, "zero": false}},
               "y": {"field": "y", "type": "quantitative", "scale": {"domain": [-2, 11], "nice": false, "zero": false}}}}
          ]
        }
      ]
    }
  ],
  "config": {
    "view": {"stroke": "black", "strokeWidth": 1},
    "axis": {"domainColor": "black", "tickColor": "black", "labelColor": "black", "labelFont": "DejaVu Sans", "labelFontSize": 10.5, "tickSize": 4, "grid": false, "labelFlush": false, "labelOverlap": false},
    "axisX": {"labelPadding": 2},
    "axisY": {"labelPadding": 5},
    "title": {"font": "Open Sans", "fontWeight": "bold", "fontSize": 30, "color": "black", "anchor": "start", "baseline": "alphabetic"}
  }
}
